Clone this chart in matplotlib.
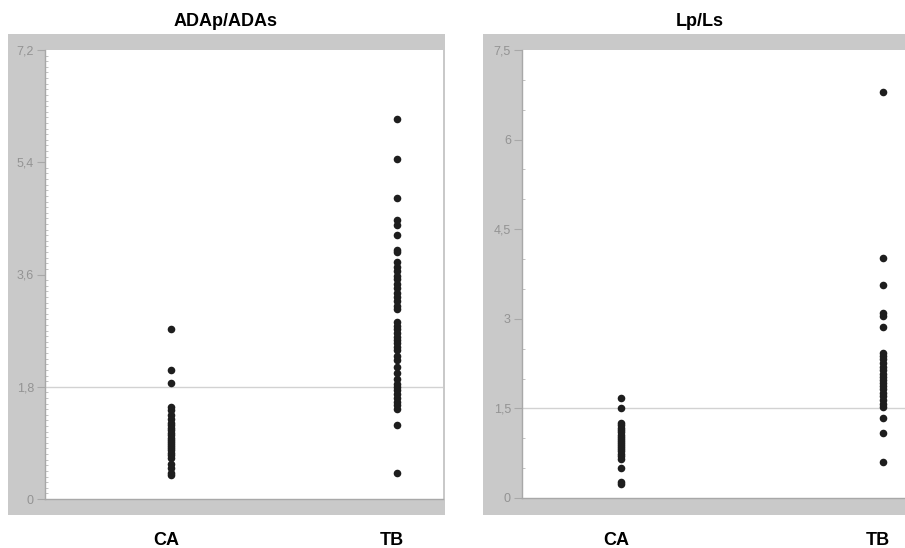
import matplotlib
matplotlib.use("Agg")
import matplotlib.pyplot as plt
import matplotlib.transforms as mtransforms
from matplotlib.patches import Rectangle
from matplotlib.ticker import MultipleLocator, FuncFormatter

plt.rcParams['font.family'] = ['Liberation Sans', 'DejaVu Sans']

groups = ["CA", "TB"]

# ADAp/ADAs values
adap_ca = [2.72, 2.07, 1.86, 1.48, 1.42, 1.35, 1.28, 1.22, 1.18, 1.14, 1.10,
           1.06, 1.02, 0.98, 0.95, 0.92, 0.88, 0.85, 0.82, 0.78, 0.74, 0.70,
           0.66, 0.56, 0.50, 0.42, 0.38]
adap_tb = [6.09, 5.45, 4.83, 4.47, 4.40, 4.23, 3.99, 3.96, 3.80, 3.72, 3.65,
           3.58, 3.52, 3.45, 3.38, 3.30, 3.24, 3.17, 3.10, 3.04, 2.84, 2.78,
           2.72, 2.66, 2.60, 2.55, 2.50, 2.44, 2.39, 2.30, 2.23, 2.12, 2.02,
           1.92, 1.85, 1.80, 1.75, 1.68, 1.62, 1.56, 1.50, 1.44, 1.19, 0.42]
adap_cutoff = 1.8

# Lp/Ls values
lpls_ca = [1.67, 1.50, 1.25, 1.22, 1.18, 1.14, 1.10, 1.06, 1.02, 0.98, 0.95,
           0.92, 0.88, 0.85, 0.82, 0.78, 0.74, 0.70, 0.66, 0.50, 0.26, 0.24]
lpls_tb = [6.80, 4.02, 3.57, 3.10, 3.04, 2.87, 2.43, 2.38, 2.32, 2.26, 2.20,
           2.14, 2.08, 2.03, 1.98, 1.92, 1.87, 1.82, 1.76, 1.70, 1.64, 1.58,
           1.52, 1.34, 1.09, 0.60]
lpls_cutoff = 1.5

W, H = 905, 548
fig = plt.figure(figsize=(W / 100, H / 100), dpi=100)


def px_rect(x0, y0, x1, y1):
    # pixel box (top-left origin) -> figure fraction [l, b, w, h]
    return [x0 / W, 1 - y1 / H, (x1 - x0) / W, (y1 - y0) / H]


def comma_fmt(v, pos):
    return f"{v:g}".replace(".", ",")


def panel(frame, box, title, title_x, ca, tb, ymax, major, minor, cutoff, xlim):
    l, b, w, h = px_rect(*frame)
    fig.add_artist(Rectangle((l, b), w, h, transform=fig.transFigure,
                             facecolor="#c9c9c9", edgecolor="none", zorder=0))
    ax = fig.add_axes(px_rect(*box))
    ax.set_facecolor("white")

    ax.axhline(cutoff, color="#d2d2d2", lw=1, zorder=1)
    ax.scatter([0] * len(ca), ca, s=30, color="#1e1e1e", zorder=3, linewidths=0)
    ax.scatter([1] * len(tb), tb, s=30, color="#1e1e1e", zorder=3, linewidths=0)

    ax.set_xlim(*xlim)
    ax.set_ylim(0, ymax)
    ax.yaxis.set_major_locator(MultipleLocator(major))
    ax.yaxis.set_minor_locator(MultipleLocator(minor))
    ax.yaxis.set_major_formatter(FuncFormatter(comma_fmt))
    ax.tick_params(axis="y", which="major", direction="out", length=6,
                   width=0.8, color="#a8a8a8", labelcolor="#939393",
                   labelsize=9, pad=2)
    ax.tick_params(axis="y", which="minor", direction="in", length=2.5,
                   width=0.6, color="#b8b8b8")
    ax.set_xticks([])

    for side in ["top", "right"]:
        ax.spines[side].set_visible(False)
    for side in ["left", "bottom"]:
        ax.spines[side].set_color("#a8a8a8")
        ax.spines[side].set_linewidth(1)

    # category labels under the frame, shifted a bit left of the dots
    trans = mtransforms.blended_transform_factory(ax.transData, fig.transFigure)
    trans = trans + mtransforms.ScaledTranslation(-5 / 100, 0, fig.dpi_scale_trans)
    for i, g in enumerate(groups):
        ax.text(i, 1 - 545 / H, g, transform=trans, ha="center", va="baseline",
                fontsize=13, fontweight="bold", clip_on=False)

    fig.text(title_x / W, 1 - 26 / H, title, ha="center", va="baseline",
             fontsize=13, fontweight="bold")
    return ax


panel((8, 34, 445, 515), (45, 50, 443, 499), "ADAp/ADAs", 226,
      adap_ca, adap_tb, 7.2, 1.8, 0.09, adap_cutoff, (-0.558, 1.204))
panel((483, 34, 920, 515), (522, 50, 905, 498), "Lp/Ls", 700,
      lpls_ca, lpls_tb, 7.5, 1.5, 0.5, lpls_cutoff, (-0.378, 1.084))

fig.savefig("out.png", dpi=100)
